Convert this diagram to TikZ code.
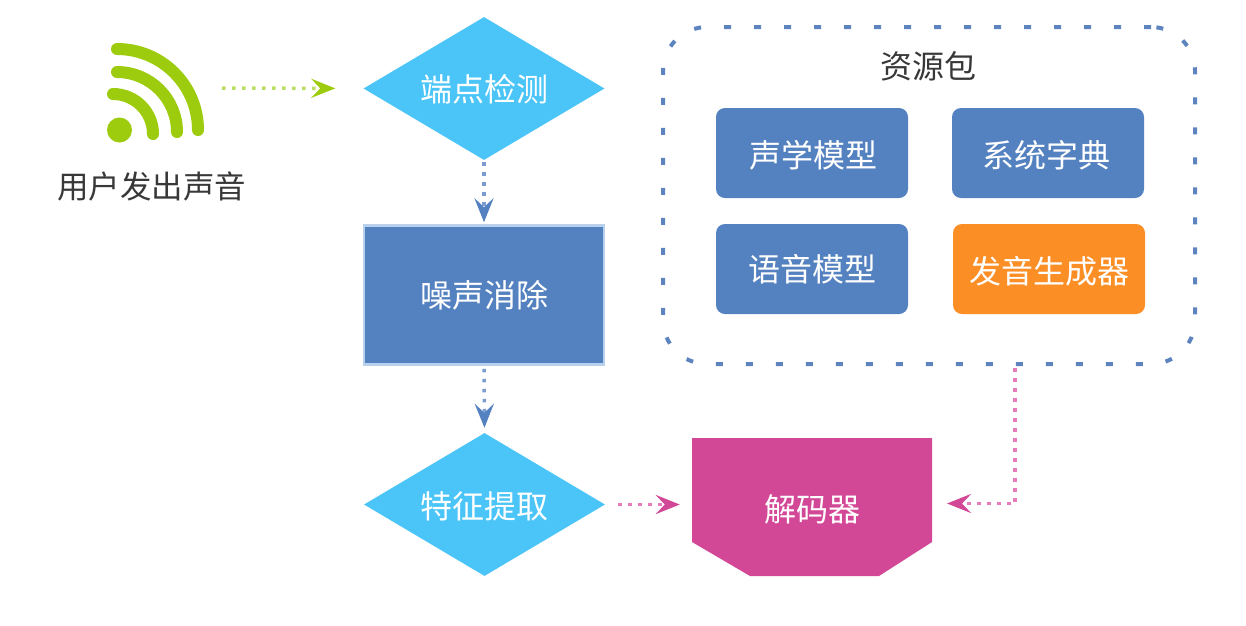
\documentclass[tikz,border=0pt]{standalone}
\usepackage{fontspec}
\newfontfamily\cjk{Noto Sans CJK SC}
\usepackage{tikz}
\usetikzlibrary{arrows.meta,shapes.geometric}
\definecolor{wifigreen}{HTML}{9DCC0E}
\definecolor{dotgreen}{HTML}{BBDD66}
\definecolor{skyblue}{HTML}{4BC5F8}
\definecolor{boxblue}{HTML}{5481BF}
\definecolor{edgeblue}{HTML}{B9D1EC}
\definecolor{dashblue}{HTML}{5D84BF}
\definecolor{dotblue}{HTML}{7C9CCF}
\definecolor{boxorange}{HTML}{FB8E25}
\definecolor{decpink}{HTML}{D34797}
\definecolor{dotpink}{HTML}{E77CBB}
\definecolor{labelgray}{HTML}{383838}
\newcommand{\lowered}[2]{\raisebox{-#1}[\height][\depth]{#2}}
\tikzset{
  cntext/.style={font=\cjk\fontsize{32}{34}\selectfont,inner sep=0pt,align=center},
  flowdiamond/.style={cntext,shape=diamond,aspect=1.7,fill=skyblue,text=white,minimum width=241,minimum height=143},
  resbox/.style={cntext,rectangle,rounded corners=9pt,fill=boxblue,text=white,minimum width=192,minimum height=90},
  dotlink/.style={dash pattern=on 3.5pt off 6.5pt,line width=3.5pt},
  bluelink/.style={dotlink,color=dotblue,-{Stealth[inset=9pt,length=24pt,width=19pt,color=boxblue]}},
  pinklink/.style={dotlink,color=dotpink,-{Stealth[inset=9pt,length=24pt,width=19pt,color=decpink]}},
  greenlink/.style={dotlink,color=dotgreen,-{Stealth[inset=9pt,length=24pt,width=19pt,color=wifigreen]}},
  wifiarc/.style={wifigreen,line width=12pt,line cap=round}
}
\begin{document}
\begin{tikzpicture}[x=1pt,y=1pt,yscale=-1,xscale=1]
\useasboundingbox (0,0) rectangle (1246,625);

%Wifi icon
\fill [wifigreen] (119.5,130) circle [radius=12.5];
\draw [wifiarc] (117,49) arc [start angle=-90,end angle=0,radius=81];
\draw [wifiarc] (117,72) arc [start angle=-90,end angle=0,radius=60];
\draw [wifiarc] (113,94) arc [start angle=-90,end angle=0,radius=40];

%Package frame
\node (pkg) at (929,195.5) [rectangle,draw=dashblue,line width=4pt,rounded corners=44pt,dash pattern=on 7pt off 23pt,minimum width=532,minimum height=337] {};

%Decoder outline
\fill [decpink] (692,438) -- (932,438) -- (932,542) -- (879,576) -- (750,576) -- (692,542) -- cycle;

% Text Node
\node (userlabel) at (151.5,186) [cntext,text=labelgray,font=\cjk\fontsize{31.5}{34}\selectfont] {用户发出声音};
% Text Node
\node (pkgtitle) at (928,66) [cntext,text=labelgray] {资源包};
% Text Node
\node (detect) at (484,88.5) [flowdiamond] {\lowered{1pt}{端点检测}};
% Text Node
\node (denoise) at (484,295) [cntext,rectangle,fill=boxblue,draw=edgeblue,line width=2.5pt,text=white,minimum width=240,minimum height=139] {噪声消除};
% Text Node
\node (extract) at (484.5,504.5) [flowdiamond] {\lowered{1.5pt}{特征提取}};
% Text Node
\node (decoder) at (812,507) [cntext,rectangle,text=white,minimum width=240,minimum height=138] {\lowered{2pt}{解码器}};
% Text Node
\node (acoustic) at (812,153) [resbox] {\hspace{3pt}\lowered{2pt}{声学模型}};
% Text Node
\node (lexicon) at (1048,153) [resbox] {\lowered{2pt}{系统字典}\hspace{4pt}};
% Text Node
\node (language) at (812,269) [resbox] {语音模型};
% Text Node
\node (generator) at (1049,269) [resbox,fill=boxorange] {\lowered{2pt}{发音生成器}};

%Connector ends
\coordinate (wifiout) at (222,88);
\coordinate (pkgout) at (1015,368);
\coordinate (decin) at (932,503.5);

%Straight Lines
\draw [greenlink,shorten >=28pt] (wifiout) -- (detect.west);
%Straight Lines
\draw [bluelink,shorten <=2pt,shorten >=2pt] (detect.south) -- (denoise.north);
%Straight Lines
\draw [bluelink,shorten <=3pt,shorten >=5pt] (denoise.south) -- (extract.north);
%Straight Lines
\draw [pinklink,shorten <=13pt,shorten >=12pt] (extract.east) -- (extract.east -| decoder.west);
%Straight Lines
\draw [pinklink,shorten >=15pt] (pkgout) |- (decin);

\end{tikzpicture}
\end{document}
